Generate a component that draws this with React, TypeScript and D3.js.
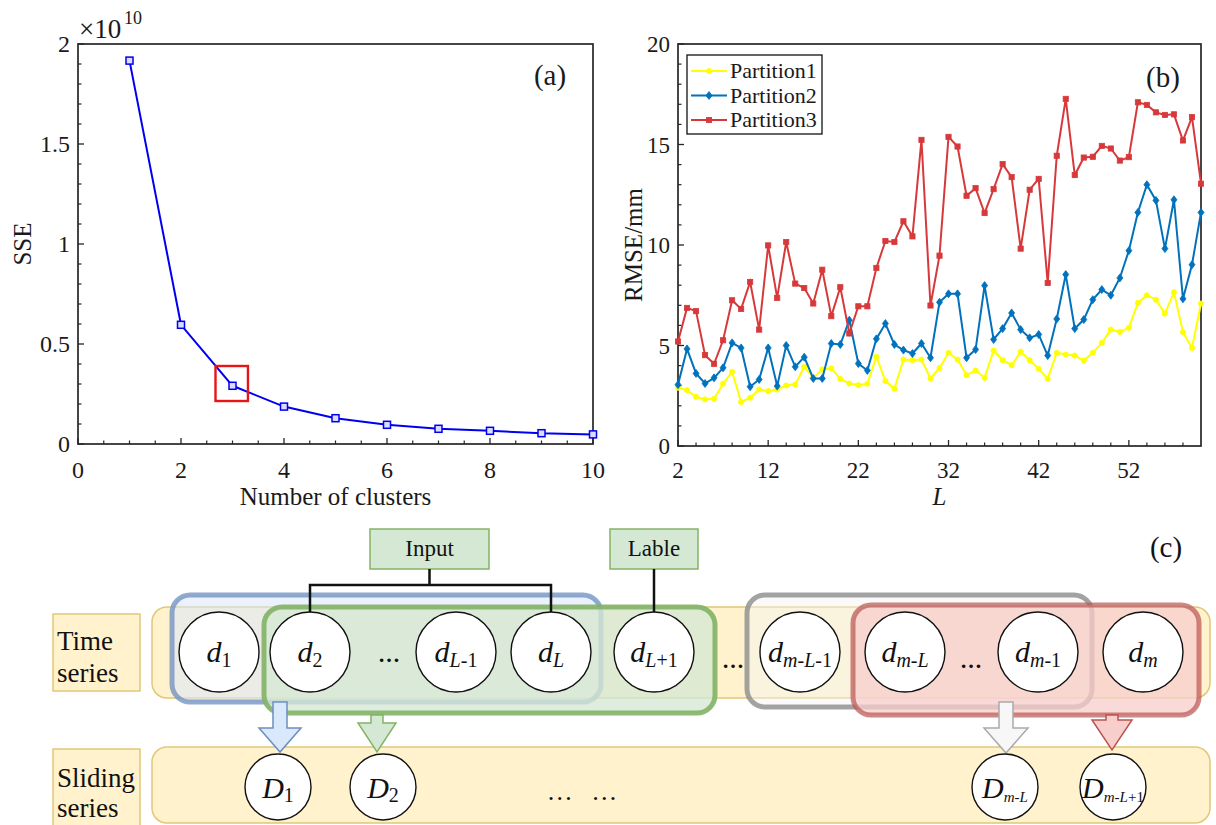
import React from 'react';
import * as d3 from 'd3';

const FONT = '"Liberation Serif", "Times New Roman", serif';
const AXC = '#262626';

// ---------- Panel (a) data ----------
const clusters = [1, 2, 3, 4, 5, 6, 7, 8, 9, 10];
const sse = [1.917, 0.596, 0.291, 0.187, 0.129, 0.096, 0.076, 0.066, 0.054, 0.048]; // ×10^10
const sseXTicks = [0, 2, 4, 6, 8, 10];
const sseYTicks = [0, 0.5, 1, 1.5, 2];
const sseYTickLabels = ['0', '0.5', '1', '1.5', '2'];
const elbowX = [2.67, 3.3];
const elbowY = [0.215, 0.39];

// ---------- Panel (b) data ----------
const Lvals = [2, 3, 4, 5, 6, 7, 8, 9, 10, 11, 12, 13, 14, 15, 16, 17, 18, 19, 20, 21, 22, 23, 24, 25, 26, 27, 28, 29, 30, 31, 32, 33, 34, 35, 36, 37, 38, 39, 40, 41, 42, 43, 44, 45, 46, 47, 48, 49, 50, 51, 52, 53, 54, 55, 56, 57, 58, 59, 60];
const partition1 = [2.9, 2.78, 2.45, 2.32, 2.35, 3.1, 3.69, 2.19, 2.4, 2.81, 2.73, 2.81, 3.01, 3.06, 3.94, 3.39, 3.81, 3.86, 3.34, 3.11, 3.03, 3.1, 4.44, 3.23, 2.85, 4.3, 4.27, 4.3, 3.36, 3.88, 4.64, 4.3, 3.53, 3.76, 3.39, 4.75, 4.27, 4.02, 4.69, 4.27, 3.84, 3.34, 4.64, 4.55, 4.5, 4.25, 4.64, 5.13, 5.79, 5.68, 5.88, 7.12, 7.5, 7.28, 6.59, 7.65, 5.66, 4.88, 7.09];
const partition2 = [3.05, 4.83, 3.61, 3.11, 3.39, 3.89, 5.13, 4.88, 2.95, 3.31, 4.88, 2.98, 5.0, 3.94, 4.42, 3.36, 3.36, 5.1, 5.05, 6.26, 4.1, 3.76, 5.33, 6.09, 5.05, 4.77, 4.6, 5.1, 4.39, 7.15, 7.57, 7.57, 4.39, 4.8, 7.98, 5.3, 5.84, 6.62, 5.79, 5.38, 5.55, 4.5, 6.32, 8.53, 5.84, 6.29, 7.28, 7.78, 7.5, 8.36, 9.72, 11.62, 13.0, 12.22, 9.82, 12.25, 7.32, 9.02, 11.62];
const partition3 = [5.2, 6.87, 6.71, 4.52, 4.09, 5.26, 7.25, 6.82, 8.16, 5.79, 9.98, 7.37, 10.15, 8.08, 7.86, 7.09, 8.77, 6.46, 7.9, 5.6, 6.95, 6.95, 8.86, 10.2, 10.15, 11.18, 10.43, 15.23, 6.99, 9.47, 15.38, 14.9, 12.45, 12.83, 11.59, 12.78, 14.02, 13.38, 9.82, 12.75, 13.29, 8.11, 14.44, 17.27, 13.48, 14.35, 14.39, 14.93, 14.8, 14.2, 14.37, 17.1, 16.97, 16.6, 16.47, 16.5, 15.2, 16.36, 13.05];
const seriesNames = ['Partition1', 'Partition2', 'Partition3'];
const seriesColors = ['#FFFF00', '#0072BD', '#D7393B'];
const seriesMarkers = ['circle', 'diamond', 'square'];
const rmseXTicks = [2, 12, 22, 32, 42, 52];
const rmseYTicks = [0, 5, 10, 15, 20];

// ---------- Panel (c) content ----------
type SubPart = [string, boolean];
const timeNodes: SubPart[][] = [
  [['1', false]],
  [['2', false]],
  [['L', true], ['-1', false]],
  [['L', true]],
  [['L', true], ['+1', false]],
  [['m', true], ['-', false], ['L', true], ['-1', false]],
  [['m', true], ['-', false], ['L', true]],
  [['m', true], ['-1', false]],
  [['m', true]],
];
const slideNodes: SubPart[][] = [
  [['1', false]],
  [['2', false]],
  [['m', true], ['-', false], ['L', true]],
  [['m', true], ['-', false], ['L', true], ['+1', false]],
];

// layout (pixels) for the diagram
const timeX = [219, 310, 456, 551, 654, 800, 905, 1038, 1143];
const slideX = [278, 383, 1005, 1113];

const A = { left: 78, right: 593, top: 44, bottom: 444 };
const B = { left: 678, right: 1201, top: 44, bottom: 446 };

function Marker({ type, x, y, color }: { type: string; x: number; y: number; color: string }) {
  if (type === 'circle') return <circle cx={x} cy={y} r={2.6} fill={color} stroke={color} strokeWidth={0.8} />;
  if (type === 'diamond')
    return <path d={`M${x},${y - 4} L${x + 3},${y} L${x},${y + 4} L${x - 3},${y} Z`} fill={color} stroke={color} strokeWidth={0.8} />;
  return <rect x={x - 2.6} y={y - 2.6} width={5.2} height={5.2} fill={color} stroke={color} strokeWidth={0.8} />;
}

function PanelA() {
  const x = d3.scaleLinear().domain([0, 10]).range([A.left, A.right]);
  const y = d3.scaleLinear().domain([0, 2]).range([A.bottom, A.top]);
  const line = d3.line<number>().x((_, i) => x(clusters[i])).y((d) => y(d));
  const xMinor = d3.range(0, 10.001, 0.5).filter((v) => !sseXTicks.includes(v));
  const yMinor = d3.range(0, 2.0001, 0.1).filter((v) => Math.abs(v * 2 - Math.round(v * 2)) > 1e-6);
  return (
    <g fontFamily={FONT} fill="#1a1a1a">
      <rect x={A.left} y={A.top} width={A.right - A.left} height={A.bottom - A.top} fill="white" stroke={AXC} strokeWidth={1.7} />
      {sseXTicks.map((t) => (
        <g key={'xt' + t}>
          <line x1={x(t)} x2={x(t)} y1={A.bottom} y2={A.bottom - 6} stroke={AXC} strokeWidth={1.3} />
          <text x={x(t)} y={A.bottom + 34} fontSize={24} textAnchor="middle">{t}</text>
        </g>
      ))}
      {xMinor.map((t) => (
        <line key={'xm' + t} x1={x(t)} x2={x(t)} y1={A.bottom} y2={A.bottom - 3.5} stroke={AXC} strokeWidth={1.2} />
      ))}
      {sseYTicks.map((t, i) => (
        <g key={'yt' + t}>
          <line x1={A.left} x2={A.left + 6} y1={y(t)} y2={y(t)} stroke={AXC} strokeWidth={1.3} />
          <text x={A.left - 8} y={y(t) + 8} fontSize={24} textAnchor="end">{sseYTickLabels[i]}</text>
        </g>
      ))}
      {yMinor.map((t) => (
        <line key={'ym' + t} x1={A.left} x2={A.left + 3.5} y1={y(t)} y2={y(t)} stroke={AXC} strokeWidth={1.2} />
      ))}
      <text x={79} y={38} fontSize={27}>×10</text>
      <text x={124} y={24} fontSize={18}>10</text>
      <path d={line(sse) || ''} fill="none" stroke="#0000F0" strokeWidth={2} />
      {sse.map((v, i) => (
        <rect key={'m' + i} x={x(clusters[i]) - 3.5} y={y(v) - 3.5} width={7} height={7} fill="#dcdcff" stroke="#0000F0" strokeWidth={1.5} />
      ))}
      <rect x={x(elbowX[0])} y={y(elbowY[1])} width={x(elbowX[1]) - x(elbowX[0])} height={y(elbowY[0]) - y(elbowY[1])} fill="none" stroke="#E8141A" strokeWidth={2.4} />
      <text x={550} y={85} fontSize={29} textAnchor="middle">(a)</text>
      <text x={(A.left + A.right) / 2} y={505} fontSize={25} textAnchor="middle">Number of clusters</text>
      <text transform={`translate(31,${(A.top + A.bottom) / 2}) rotate(-90)`} fontSize={25} textAnchor="middle">SSE</text>
    </g>
  );
}

function PanelB() {
  const x = d3.scaleLinear().domain([2, 60]).range([B.left, B.right]);
  const y = d3.scaleLinear().domain([0, 20]).range([B.bottom, B.top]);
  const series = [partition1, partition2, partition3];
  const line = d3.line<number>().x((_, i) => x(Lvals[i])).y((d) => y(d));
  const xMinor = d3.range(4, 60, 2).filter((v) => !rmseXTicks.includes(v));
  const yMinor = d3.range(1, 20, 1).filter((v) => v % 5 !== 0);
  const legY = [71, 95.5, 120];
  return (
    <g fontFamily={FONT} fill="#1a1a1a">
      <rect x={B.left} y={B.top} width={B.right - B.left} height={B.bottom - B.top} fill="white" stroke={AXC} strokeWidth={1.7} />
      {rmseXTicks.map((t) => (
        <g key={'xt' + t}>
          <line x1={x(t)} x2={x(t)} y1={B.bottom} y2={B.bottom - 6} stroke={AXC} strokeWidth={1.3} />
          <text x={x(t)} y={B.bottom + 32} fontSize={23} textAnchor="middle">{t}</text>
        </g>
      ))}
      {xMinor.map((t) => (
        <line key={'xm' + t} x1={x(t)} x2={x(t)} y1={B.bottom} y2={B.bottom - 3.5} stroke={AXC} strokeWidth={1.2} />
      ))}
      {rmseYTicks.map((t) => (
        <g key={'yt' + t}>
          <line x1={B.left} x2={B.left + 6} y1={y(t)} y2={y(t)} stroke={AXC} strokeWidth={1.3} />
          <text x={B.left - 8} y={y(t) + 8} fontSize={23} textAnchor="end">{t}</text>
        </g>
      ))}
      {yMinor.map((t) => (
        <line key={'ym' + t} x1={B.left} x2={B.left + 3.5} y1={y(t)} y2={y(t)} stroke={AXC} strokeWidth={1.2} />
      ))}
      {series.map((s, si) => (
        <g key={'s' + si}>
          <path d={line(s) || ''} fill="none" stroke={seriesColors[si]} strokeWidth={2} />
          {s.map((v, i) => (
            <Marker key={i} type={seriesMarkers[si]} x={x(Lvals[i])} y={y(v)} color={seriesColors[si]} />
          ))}
        </g>
      ))}
      <rect x={687} y={55} width={135} height={79} fill="white" stroke="#111" strokeWidth={1.3} />
      {seriesNames.map((n, i) => (
        <g key={n}>
          <line x1={691} x2={727} y1={legY[i]} y2={legY[i]} stroke={seriesColors[i]} strokeWidth={2} />
          <Marker type={seriesMarkers[i]} x={709} y={legY[i]} color={seriesColors[i]} />
          <text x={730} y={legY[i] + 7} fontSize={22}>{n}</text>
        </g>
      ))}
      <text x={1163} y={87} fontSize={29} textAnchor="middle">(b)</text>
      <text x={(B.left + B.right) / 2} y={505} fontSize={25} textAnchor="middle" fontStyle="italic">L</text>
      <text transform={`translate(642,${(B.top + B.bottom) / 2}) rotate(-90)`} fontSize={25} textAnchor="middle">RMSE/mm</text>
    </g>
  );
}

function SubLabel({ x, y, main, parts, mainSize, subSize, dy }: { x: number; y: number; main: string; parts: SubPart[]; mainSize: number; subSize: number; dy: number }) {
  return (
    <text x={x} y={y} textAnchor="middle" fontFamily={FONT} fill="#111">
      <tspan fontStyle="italic" fontSize={mainSize}>{main}</tspan>
      {parts.map((p, i) => (
        <tspan key={i} dy={i === 0 ? dy : 0} fontSize={subSize} fontStyle={p[1] ? 'italic' : 'normal'}>{p[0]}</tspan>
      ))}
    </text>
  );
}

function Arrow({ cx, top, neck, tip, sw, hw, fill, stroke }: { cx: number; top: number; neck: number; tip: number; sw: number; hw: number; fill: string; stroke: string }) {
  const pts = [
    [cx - sw, top], [cx + sw, top], [cx + sw, neck], [cx + hw, neck], [cx, tip], [cx - hw, neck], [cx - sw, neck],
  ];
  return <polygon points={pts.map((p) => p.join(',')).join(' ')} fill={fill} stroke={stroke} strokeWidth={1.5} />;
}

function PanelC() {
  const tY = 652;
  const sY = 787;
  return (
    <g fontFamily={FONT}>
      {/* bands */}
      <rect x={152} y={607} width={1058} height={91} rx={15} fill="#fff2cc" stroke="#e0c878" strokeWidth={1.5} />
      <rect x={172} y={595} width={429} height={107} rx={18} fill="#dae8fc" fillOpacity={0.55} stroke="#6c8ebf" strokeOpacity={0.75} strokeWidth={5} />
      <rect x={264} y={607} width={451} height={106} rx={18} fill="#d5e8d4" fillOpacity={0.78} stroke="#82b366" strokeOpacity={0.9} strokeWidth={5} />
      <rect x={747} y={595} width={345} height={112} rx={18} fill="#f5f5f5" fillOpacity={0.45} stroke="#8c8c8c" strokeOpacity={0.8} strokeWidth={5} />
      <rect x={853} y={605} width={346} height={110} rx={18} fill="#f8cecc" fillOpacity={0.75} stroke="#b85450" strokeOpacity={0.7} strokeWidth={5} />
      <rect x={152} y={747} width={1058} height={76} rx={15} fill="#fff2cc" stroke="#e0c878" strokeWidth={1.5} />

      {/* arrows */}
      <Arrow cx={280} top={702} neck={728} tip={752} sw={7} hw={21} fill="#dae8fc" stroke="#6c8ebf" />
      <Arrow cx={377} top={715} neck={723} tip={752} sw={6} hw={19} fill="#d5e8d4" stroke="#82b366" />
      <Arrow cx={1006} top={702} neck={728} tip={753} sw={7} hw={22} fill="#f7f7f7" stroke="#aaaaaa" />
      <Arrow cx={1112} top={715} neck={720} tip={750} sw={6} hw={20} fill="#f8cecc" stroke="#b85450" />

      {/* time series nodes */}
      {timeNodes.map((parts, i) => (
        <g key={'t' + i}>
          <circle cx={timeX[i]} cy={tY} r={40} fill="white" stroke="#111" strokeWidth={1.4} />
          <SubLabel x={timeX[i]} y={tY + 10} main="d" parts={parts} mainSize={30} subSize={20} dy={5} />
        </g>
      ))}
      <text x={389} y={662} fontSize={22} fontWeight="bold" textAnchor="middle" fill="#111">…</text>
      <text x={733} y={668} fontSize={22} fontWeight="bold" textAnchor="middle" fill="#111">…</text>
      <text x={971} y={668} fontSize={22} fontWeight="bold" textAnchor="middle" fill="#111">…</text>

      {/* sliding series nodes */}
      {slideNodes.map((parts, i) => (
        <g key={'s' + i}>
          <circle cx={slideX[i]} cy={sY} r={33} fill="white" stroke="#111" strokeWidth={1.4} />
          <SubLabel x={slideX[i]} y={sY + 11} main="D" parts={parts} mainSize={30} subSize={i < 2 ? 20 : 15} dy={4} />
        </g>
      ))}
      <text x={585} y={800} fontSize={26} textAnchor="middle" fill="#111" letterSpacing={6}>… …</text>

      {/* input / lable */}
      <rect x={370} y={529} width={119} height={40} fill="#d5e8d4" stroke="#82b366" strokeWidth={1.5} />
      <text x={429.5} y={556} fontSize={23} textAnchor="middle" fill="#111">Input</text>
      <rect x={610} y={529} width={88} height={40} fill="#d5e8d4" stroke="#82b366" strokeWidth={1.5} />
      <text x={654} y={556} fontSize={23} textAnchor="middle" fill="#111">Lable</text>
      <path d={`M429.5,569 V585 M${timeX[1]},${tY - 40} V585 H${timeX[3]} V${tY - 40}`} fill="none" stroke="#111" strokeWidth={2.5} />
      <path d={`M${timeX[4]},569 V${tY - 40}`} fill="none" stroke="#111" strokeWidth={2.5} />

      {/* row labels */}
      <rect x={53} y={614} width={87} height={77} fill="#fff2cc" stroke="#e0c878" strokeWidth={1.5} />
      <text x={57} y={650} fontSize={27} fill="#111">Time</text>
      <text x={57} y={682} fontSize={27} fill="#111">series</text>
      <rect x={53} y={749} width={87} height={80} fill="#fff2cc" stroke="#e0c878" strokeWidth={1.5} />
      <text x={57} y={787} fontSize={27} fill="#111">Sliding</text>
      <text x={57} y={817} fontSize={27} fill="#111">series</text>

      <text x={1166} y={557} fontSize={29} textAnchor="middle" fill="#111">(c)</text>
    </g>
  );
}

export default function App() {
  return (
    <svg width={1216} height={825} viewBox="0 0 1216 825" style={{ position: 'absolute', left: 0, top: 0, background: 'white' }}>
      <rect x={0} y={0} width={1216} height={825} fill="white" />
      <PanelA />
      <PanelB />
      <PanelC />
    </svg>
  );
}
